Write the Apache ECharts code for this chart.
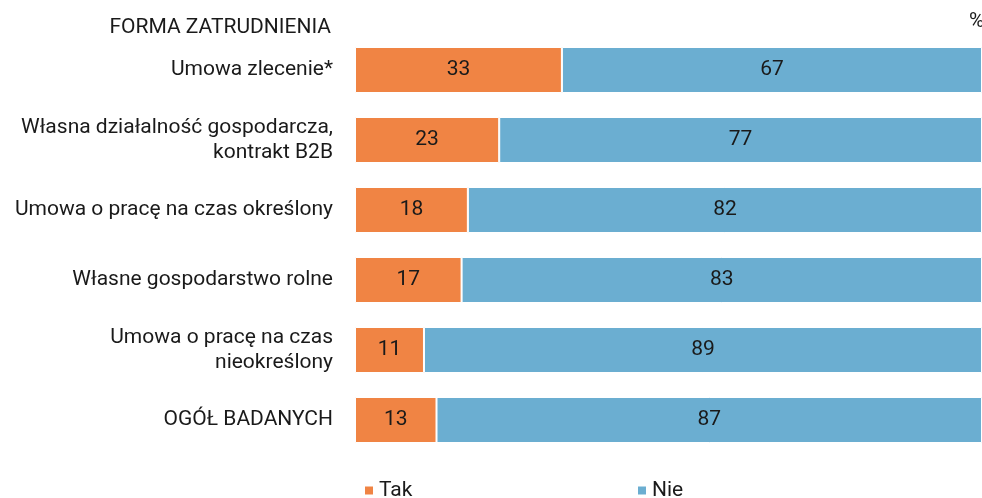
<!DOCTYPE html>
<html lang="pl">
<head>
    <meta charset="UTF-8">
    <title>Forma zatrudnienia</title>
    <script src="https://cdn.jsdelivr.net/npm/echarts@6/dist/echarts.min.js"></script>
    <style>
        html, body { margin: 0; padding: 0; background: #fff; }
    </style>
</head>
<body>
<div id="main" style="width: 982px;height:498px;"></div>

<script type="text/javascript">
    // dane z wykresu (od góry do dołu)
    var categories = [
        'Umowa zlecenie*',
        'Własna działalność gospodarcza,\nkontrakt B2B',
        'Umowa o pracę na czas określony',
        'Własne gospodarstwo rolne',
        'Umowa o pracę na czas\nnieokreślony',
        'OGÓŁ BADANYCH'
    ];
    var takValues = [33, 23, 18, 17, 11, 13];
    var nieValues = [67, 77, 82, 83, 89, 87];

    var FONT = 'Roboto';
    var FS = 21;
    var myChart = echarts.init(document.getElementById('main'));

    var option = {
        animation: false,
        textStyle: { fontFamily: FONT },
        color: ['#F08444', '#6BAED1'],
        graphic: [
            {
                type: 'text', right: 651, top: 17,
                style: { text: 'FORMA ZATRUDNIENIA', font: FS + 'px Roboto', fill: '#1a1a1a' }
            },
            {
                type: 'text', left: 969, top: 11,
                style: { text: '%', font: FS + 'px Roboto', fill: '#1a1a1a' }
            }
        ],
        legend: [
            {
                data: ['Tak'], left: 363, top: 480, padding: 0, itemWidth: 10, itemHeight: 10,
                icon: 'rect', textStyle: { fontSize: FS, color: '#1a1a1a', fontFamily: FONT }
            },
            {
                data: ['Nie'], left: 636, top: 480, padding: 0, itemWidth: 10, itemHeight: 10,
                icon: 'rect', textStyle: { fontSize: FS, color: '#1a1a1a', fontFamily: FONT }
            }
        ],
        grid: { left: 355, right: 0, top: 35, bottom: 43 },
        xAxis: {
            type: 'value', min: 0, max: 100, show: false
        },
        yAxis: {
            type: 'category',
            inverse: true,
            data: categories,
            axisLine: { show: false },
            axisTick: { show: false },
            axisLabel: {
                margin: 22, fontSize: FS, lineHeight: 25, color: '#1a1a1a', fontFamily: FONT
            }
        },
        series: [
            {
                name: 'Tak', type: 'bar', stack: 'all', barWidth: 46,
                data: takValues,
                itemStyle: { borderColor: '#fff', borderWidth: 1 },
                label: { show: true, position: 'inside', color: '#1a1a1a', fontSize: FS, fontFamily: FONT }
            },
            {
                name: 'Nie', type: 'bar', stack: 'all', barWidth: 46,
                data: nieValues,
                itemStyle: { borderColor: '#fff', borderWidth: 1 },
                label: { show: true, position: 'inside', color: '#1a1a1a', fontSize: FS, fontFamily: FONT }
            }
        ]
    };
    myChart.setOption(option);
</script>
</body>
</html>
